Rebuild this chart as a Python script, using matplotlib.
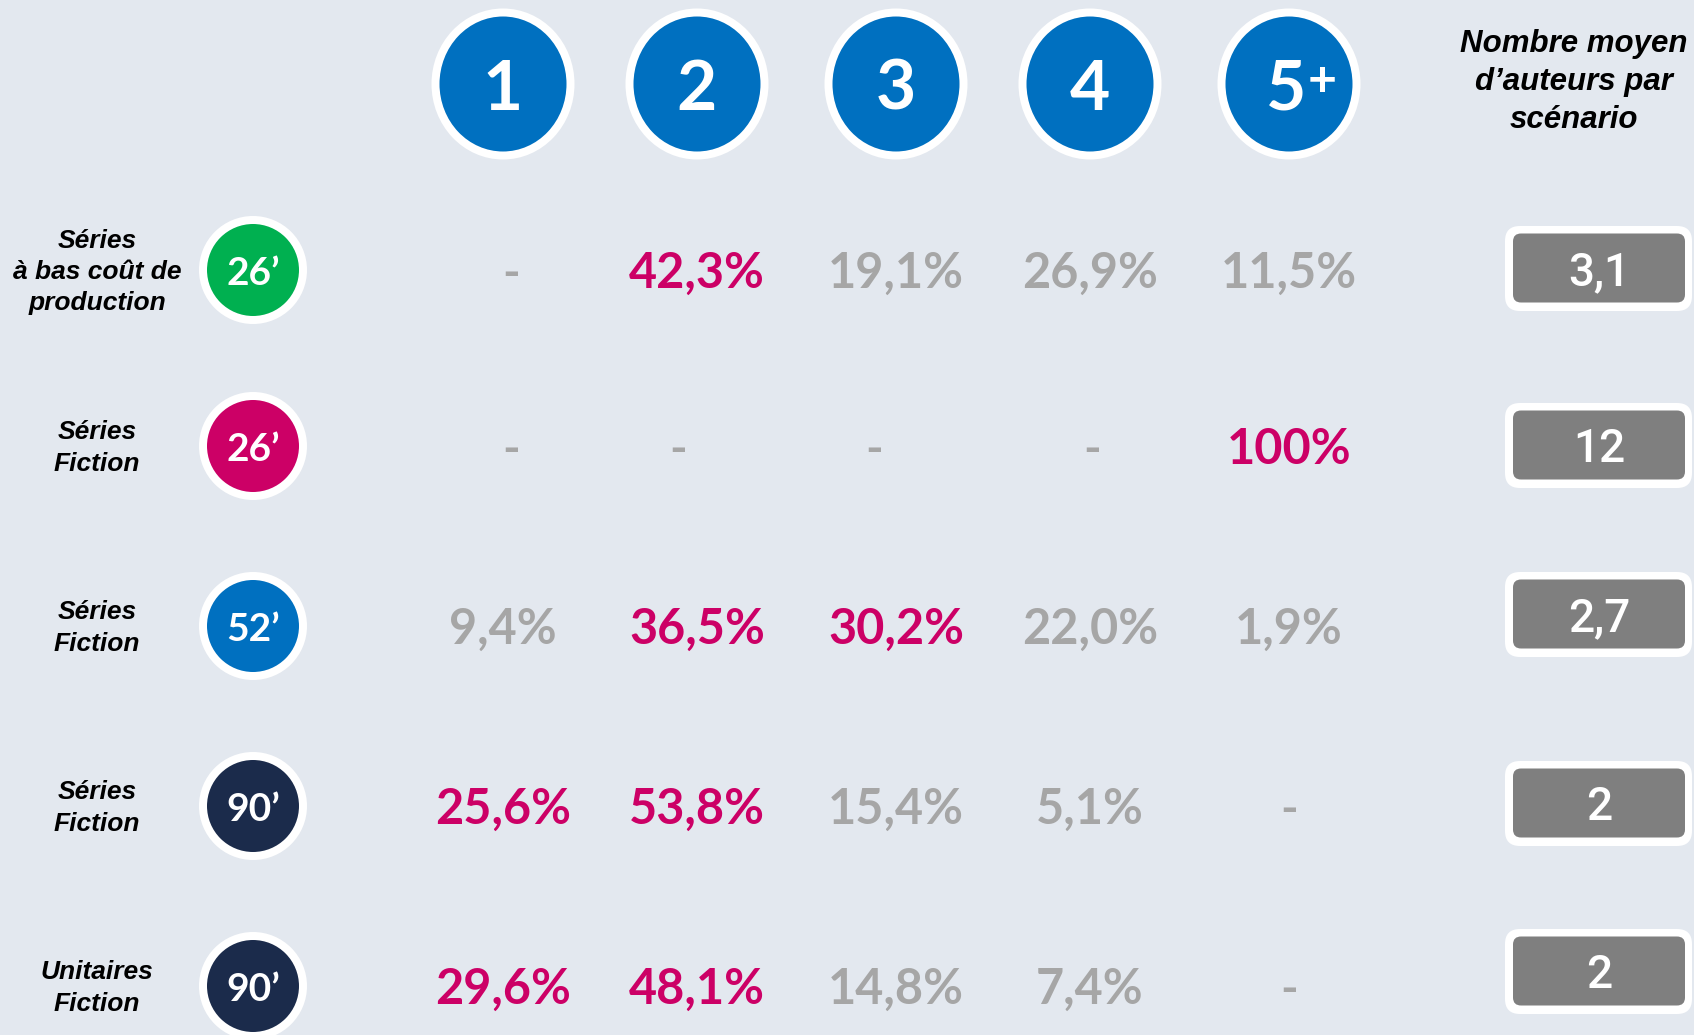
import matplotlib.pyplot as plt
from matplotlib.patches import Ellipse, FancyBboxPatch

# donnees du tableau
categories = ["Séries\nà bas coût de\nproduction", "Séries\nFiction", "Séries\nFiction",
              "Séries\nFiction", "Unitaires\nFiction"]
durations = ["26’", "26’", "52’", "90’", "90’"]
nb_auteurs = ["1", "2", "3", "4", "5"]
shares = [
    [None, 42.3, 19.1, 26.9, 11.5],
    [None, None, None, None, 100],
    [9.4, 36.5, 30.2, 22.0, 1.9],
    [25.6, 53.8, 15.4, 5.1, None],
    [29.6, 48.1, 14.8, 7.4, None],
]
highlight = [[1], [4], [1, 2], [0, 1], [0, 1]]
avg_authors = [3.1, 12, 2.7, 2, 2]

# couleurs
bg = "#E3E8EF"
blue = "#0070C0"
magenta = "#CC0066"
grey_txt = "#A6A6A6"
grey_box = "#7F7F7F"
badge_colors = ["#00B050", "#CC0066", "#0070C0", "#1B2B4B", "#1B2B4B"]

# mise en page (pixels)
W, H = 1694, 1035
col_x = [503, 697, 896, 1090, 1289]
dash_dx = [8, -19, -22, 2, 0]
row_y = [270, 446, 626, 806, 986]
box_y = [268, 445, 614, 803, 971]
badge_x = 253
label_x = 97
box_cx = 1599


def px2pt(px):
    return px * 72 / 100


def fmt_pct(v):
    if v == 100:
        return "100%"
    return f"{v:.1f}".replace(".", ",") + "%"


fig = plt.figure(figsize=(W / 100, H / 100), dpi=100)
fig.patch.set_facecolor(bg)
ax = fig.add_axes([0, 0, 1, 1])
ax.set_xlim(0, W)
ax.set_ylim(H, 0)
ax.axis("off")

num_font = "Lato"

# en-tetes : cercles bleus
for i, lab in enumerate(nb_auteurs):
    ax.add_patch(Ellipse((col_x[i], 84), 135, 143, facecolor=blue, edgecolor="white",
                         linewidth=px2pt(8)))
    if i == 4:
        ax.text(col_x[i] - 3, 84 + 26, lab, color="white", fontsize=50, fontweight="bold",
                family=num_font, ha="center", va="baseline")
        ax.text(col_x[i] + 33, 82, "+", color="white", fontsize=36, fontweight="bold",
                family=num_font, ha="center", va="center")
    else:
        ax.text(col_x[i], 84 + 26, lab, color="white", fontsize=50, fontweight="bold",
                family=num_font, ha="center", va="baseline")

ax.text(1574, 82, "Nombre moyen\nd’auteurs par\nscénario", fontsize=22.5, fontweight="bold",
        style="italic", family="Liberation Sans", ha="center", va="center", linespacing=1.36)

# lignes
for r in range(len(categories)):
    y = row_y[r]
    ax.text(label_x, y + 2, categories[r], fontsize=19, fontweight="bold", style="italic",
            family="Liberation Sans", ha="center", va="center", linespacing=1.38)
    ax.add_patch(Ellipse((badge_x, y), 100, 100, facecolor=badge_colors[r],
                         edgecolor="white", linewidth=px2pt(8)))
    ax.text(badge_x, y + 15, durations[r], color="white", fontsize=28, fontweight="bold",
            family=num_font, ha="center", va="baseline")

    for c, v in enumerate(shares[r]):
        if v is None:
            ax.text(col_x[c] + dash_dx[c], y + 18, "-", color=grey_txt, fontsize=34,
                    fontweight="bold", family=num_font, ha="center", va="baseline")
        else:
            col = magenta if c in highlight[r] else grey_txt
            ax.text(col_x[c], y + 18, fmt_pct(v), color=col, fontsize=35, fontweight="bold",
                    family=num_font, ha="center", va="baseline")

    # moyenne
    by = box_y[r]
    ax.add_patch(FancyBboxPatch((1505, by - 42), 187, 85,
                                boxstyle="round,pad=0,rounding_size=15",
                                facecolor="white", edgecolor="none"))
    ax.add_patch(FancyBboxPatch((1513, by - 34.5), 172, 69,
                                boxstyle="round,pad=0,rounding_size=8",
                                facecolor=grey_box, edgecolor="none"))
    ax.text(box_cx, by + 17, f"{avg_authors[r]:g}".replace(".", ","), color="white",
            fontsize=33, fontweight="medium", family="Roboto", ha="center", va="baseline")

fig.savefig("out.png", dpi=100, facecolor=bg)
